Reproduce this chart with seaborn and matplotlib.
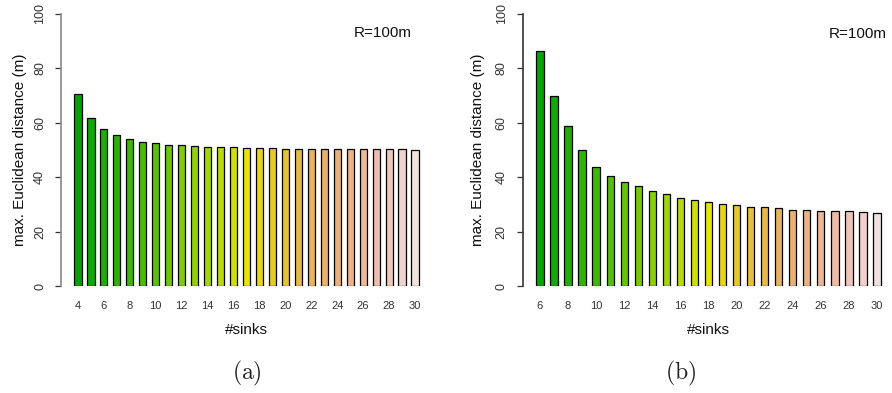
import colorsys
import numpy as np
import pandas as pd
import matplotlib
matplotlib.use("Agg")
import matplotlib.pyplot as plt
import seaborn as sns

# ---------------- data ----------------
sinks_a = list(range(4, 31))
dist_a = [70.5, 61.7, 57.7, 55.4, 54.0, 53.1, 52.4, 52.0, 51.7, 51.5, 51.2, 51.1,
          51.0, 50.9, 50.7, 50.6, 50.5, 50.5, 50.5, 50.4, 50.4, 50.4, 50.3, 50.3,
          50.3, 50.3, 50.1]

sinks_b = list(range(6, 31))
dist_b = [86.4, 69.9, 58.7, 49.9, 43.9, 40.3, 38.1, 36.6, 34.8, 33.7, 32.5, 31.5,
          30.9, 30.2, 29.6, 29.2, 28.9, 28.5, 28.1, 27.9, 27.6, 27.5, 27.4, 27.1, 27.0]

y_ticks = [0, 20, 40, 60, 80, 100]
x_label = "#sinks"
y_label = "max. Euclidean distance (m)"
annot = "R=100m"
captions = ["(a)", "(b)"]


def terrain_colors(n):
    """R's terrain.colors(n)"""
    k = n // 2
    h1 = np.linspace(4 / 12, 2 / 12, k)
    s1 = np.linspace(1, 1, k)
    v1 = np.linspace(0.65, 0.9, k)
    h2 = np.linspace(2 / 12, 0, n - k + 1)[1:]
    s2 = np.linspace(1, 0, n - k + 1)[1:]
    v2 = np.linspace(0.9, 0.95, n - k + 1)[1:]
    h = np.concatenate([h1, h2]); s = np.concatenate([s1, s2]); v = np.concatenate([v1, v2])
    return [colorsys.hsv_to_rgb(a, b, c) for a, b, c in zip(h, s, v)]


sns.set_theme(style="white")
plt.rcParams["font.family"] = ["Liberation Sans", "DejaVu Sans"]
plt.rcParams["mathtext.fontset"] = "cm"

W, H = 892, 393
fig = plt.figure(figsize=(W / 100, H / 100), dpi=100)


def px_axes(l, r, t, b):
    return fig.add_axes([l / W, (H - b) / H, (r - l) / W, (b - t) / H])


panels = [
    dict(sinks=sinks_a, dist=dist_a, box=(61, 432, 14, 286), xlim=(-1.31, 27.31),
         width=0.55, spine="#888888", annot_xy=(0.867, 0.930),
         xlab_x=0.501, ylab_x=-0.1105, cap=(247, 373)),
    dict(sinks=sinks_b, dist=dist_b, box=(522.7, 892, 14, 286), xlim=(-1.23, 25.07),
         width=0.52, spine="#333333", annot_xy=(0.908, 0.926),
         xlab_x=0.502, ylab_x=-0.121, cap=(681, 373)),
]

for p, cap in zip(panels, captions):
    ax = px_axes(*p["box"])
    labels = [str(s) for s in p["sinks"]]
    df = pd.DataFrame({"sinks": labels, "dist": p["dist"]})
    cols = terrain_colors(len(labels) + 1)[:len(labels)]
    sns.barplot(data=df, x="sinks", y="dist", hue="sinks", order=labels,
                hue_order=labels, palette=cols, legend=False, width=p["width"],
                edgecolor="black", linewidth=0.9, saturation=1, ax=ax)
    ax.set_xlim(*p["xlim"])
    ax.set_ylim(0, 100)
    for side in ["top", "right", "bottom"]:
        ax.spines[side].set_visible(False)
    ax.spines["left"].set_color(p["spine"])
    ax.spines["left"].set_linewidth(1.2)
    ax.spines["left"].set_bounds(0, 100)

    ax.set_yticks(y_ticks)
    ax.set_yticklabels([str(v) for v in y_ticks], rotation=90, va="center",
                       fontsize=9, color="#333333")
    ax.tick_params(axis="y", left=True, length=4.3, width=0.9, color="#333333", pad=6.5)

    idx = list(range(0, len(labels), 2))
    ax.set_xticks(idx)
    ax.set_xticklabels([labels[i] for i in idx], fontsize=8, color="#333333")
    ax.tick_params(axis="x", bottom=False, length=0, pad=10.5)

    ax.set_xlabel(x_label, fontsize=11, va="center", color="#111111")
    ax.xaxis.set_label_coords(p["xlab_x"], -0.162)
    ax.set_ylabel(y_label, fontsize=11, va="center", color="#111111")
    ax.yaxis.set_label_coords(p["ylab_x"], 0.5)

    ax.text(p["annot_xy"][0], p["annot_xy"][1], annot, transform=ax.transAxes,
            ha="center", va="center", fontsize=11, color="#111111")
    ax.grid(False)

    cx, cy = p["cap"]
    fig.text(cx / W, (H - cy) / H, r"$(\mathrm{%s})$" % cap.strip("()"),
             ha="center", va="center", fontsize=17, color="#222222")

fig.savefig("out.png", dpi=100)
